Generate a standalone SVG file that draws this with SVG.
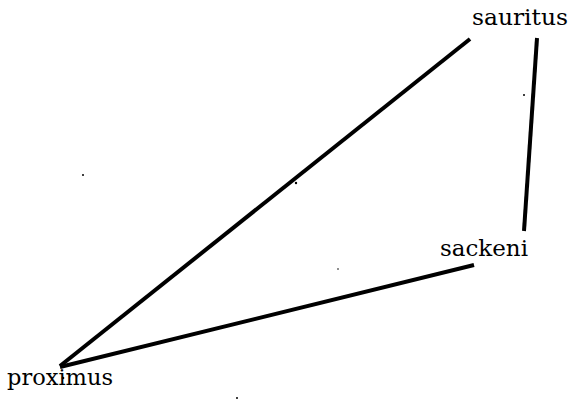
<svg xmlns="http://www.w3.org/2000/svg" width="570" height="401" viewBox="0 0 570 401">
<style>
.lbl{font-family:"DejaVu Serif","Liberation Serif",serif;font-size:22px;fill:#000}
.edge{stroke:#000;stroke-width:4;stroke-linecap:butt;fill:none}
.dot{fill:#000}
</style>
<rect width="570" height="401" fill="#fff"/>
<g id="connectors">
<line class="edge" x1="60" y1="366" x2="470" y2="39"/>
<line class="edge" x1="60" y1="367" x2="474" y2="265"/>
<line class="edge" x1="537" y1="38" x2="524" y2="231"/>
</g>
<g id="sauritus"><text class="lbl" x="472" y="25" textLength="96" lengthAdjust="spacingAndGlyphs">sauritus</text></g>
<g id="sackeni"><text class="lbl" x="440" y="256" textLength="88" lengthAdjust="spacingAndGlyphs">sackeni</text></g>
<g id="proximus"><text class="lbl" x="7" y="385" textLength="106" lengthAdjust="spacingAndGlyphs">proximus</text></g>
<g id="specks">
<circle class="dot" cx="83" cy="175" r="1"/>
<circle class="dot" cx="524" cy="95" r="1"/>
<circle class="dot" cx="338" cy="269" r="0.8"/>
<circle class="dot" cx="237" cy="398" r="1"/>
<circle class="dot" cx="296" cy="183" r="1.2"/>
<circle class="dot" cx="63" cy="378" r="1.3"/>
</g>
</svg>
